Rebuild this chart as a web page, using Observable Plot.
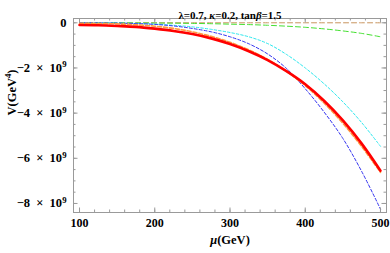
<!DOCTYPE html>
<html>
<head>
<meta charset="utf-8">
<script src="https://cdn.jsdelivr.net/npm/d3@7"></script>
<script src="https://cdn.jsdelivr.net/npm/@observablehq/plot@0.6"></script>
<style>
  html, body { margin: 0; padding: 0; background: #fff; }
</style>
</head>
<body>
<div id="chart"></div>
<script>
// ---- data (V in units of 10^9 GeV^4) ----
const mu = [100,125,150,175,200,225,250,275,300,325,350,375,400,425,450,475,500];
const vRed    = [-0.10,-0.11,-0.14,-0.18,-0.26,-0.36,-0.50,-0.69,-0.94,-1.26,-1.65,-2.14,-2.72,-3.45,-4.32,-5.35,-6.55];
const vOrange = [-0.02,-0.03,-0.05,-0.09,-0.15,-0.25,-0.40,-0.60,-0.86,-1.20,-1.62,-2.15,-2.78,-3.55,-4.45,-5.48,-6.62];
const vBlue   = [0,-0.005,-0.015,-0.035,-0.07,-0.14,-0.25,-0.40,-0.62,-0.93,-1.38,-2.02,-2.92,-3.95,-5.12,-6.58,-8.25];
const vCyan   = [0,-0.003,-0.01,-0.03,-0.06,-0.11,-0.18,-0.29,-0.43,-0.62,-0.92,-1.40,-2.00,-2.70,-3.50,-4.42,-5.47];
const vGreen  = [0,0,-0.003,-0.006,-0.01,-0.017,-0.027,-0.04,-0.06,-0.08,-0.11,-0.15,-0.20,-0.27,-0.36,-0.47,-0.62];
const vBrown  = [0,0,0,0,0,0,0,0,0,0,0,0,0,0,0,0,0];

const xMajor = [100,200,300,400,500];
const xMinor = d3.range(100, 501, 20);
const yMajor = [0,-2,-4,-6,-8];
const yMinor = d3.range(-8, 0.01, 0.5);
const yTickLabels = ["0","−2\u2002×\u200210^9","−4\u2002×\u200210^9","−6\u2002×\u200210^9","−8\u2002×\u200210^9"];

const titleText = "λ=0.7, κ=0.2, tanβ=1.5";
const xLabel = "μ(GeV)";
const yLabel = "V(GeV^4)";

// ---- layout ----
const W = 390, H = 253, mT = 18, mB = 41, mL = 73, mR = 4;
const frameH = H - mT - mB, frameW = W - mL - mR;
const grey = "#9a9a9a";

const series = [
  {v: vBrown,  stroke: "#c8945e", w: 1,   dash: "5,3"},
  {v: vGreen,  stroke: "#44e030", w: 1,   dash: "5,3"},
  {v: vCyan,   stroke: "#2ee8ee", w: 1,   dash: "2.5,2"},
  {v: vBlue,   stroke: "#3535f0", w: 1,   dash: "3,2"},
  {v: vOrange, stroke: "#ff9a40", w: 1.6, dash: "4,2"},
  {v: vRed,    stroke: "#ff0000", w: 2.6, dash: null}
];

const lineMarks = series.map(s => Plot.line(mu.map((m, i) => ({mu: m, V: s.v[i]})), {
  x: "mu", y: "V", stroke: s.stroke, strokeWidth: s.w,
  strokeDasharray: s.dash, curve: "catmull-rom"
}));

const plot = Plot.plot({
  width: W, height: H,
  marginTop: mT, marginBottom: mB, marginLeft: mL, marginRight: mR,
  style: {fontFamily: "'Liberation Serif', 'Times New Roman', serif", fontSize: "12px", fontWeight: "bold", background: "#fff", color: "#000"},
  x: {domain: [92, 508]},
  y: {domain: [-8.4, 0.19]},
  marks: [
    ...lineMarks,
    Plot.frame({stroke: grey, strokeWidth: 1}),
    // inward ticks, bottom / top
    Plot.tickX(xMinor, {x: d => d, stroke: grey, insetTop: frameH - 2.5}),
    Plot.tickX(xMajor, {x: d => d, stroke: grey, insetTop: frameH - 4.5}),
    Plot.tickX(xMinor, {x: d => d, stroke: grey, insetBottom: frameH - 2.5}),
    Plot.tickX(xMajor, {x: d => d, stroke: grey, insetBottom: frameH - 4.5}),
    // inward ticks, left / right
    Plot.tickY(yMinor, {y: d => d, stroke: grey, insetRight: frameW - 2.5}),
    Plot.tickY(yMajor, {y: d => d, stroke: grey, insetRight: frameW - 4.5}),
    Plot.tickY(yMinor, {y: d => d, stroke: grey, insetLeft: frameW - 2.5}),
    Plot.tickY(yMajor, {y: d => d, stroke: grey, insetLeft: frameW - 4.5}),
    Plot.axisX({ticks: xMajor, tickSize: 0, tickPadding: 6, label: null, tickFormat: d => String(d)}),
    Plot.axisY({ticks: yMajor, tickSize: 0, tickPadding: 7, label: null, fontSize: 12.5,
      tickFormat: d => yTickLabels[yMajor.indexOf(d)]}),
    Plot.text([titleText], {frameAnchor: "top", dy: -7, text: d => d, fontSize: 11}),
    Plot.text([xLabel], {frameAnchor: "bottom", dy: 31, text: d => d, fontSize: 12.5}),
    Plot.text([yLabel], {frameAnchor: "left", dx: -62, rotate: -90, text: d => d, fontSize: 12.5})
  ]
});

// ---- rich text (italics / superscripts) ----
function rich(node, parts) {
  const sel = d3.select(node);
  sel.text(null);
  for (const p of parts) {
    const t = sel.append("tspan").text(p.t);
    if (p.it) t.attr("font-style", "italic");
    if (p.sup) t.attr("font-size", "0.7em").attr("dy", "-4.5");
    if (p.down) t.attr("dy", "4.5");
  }
}
d3.select(plot).selectAll("text").each(function() {
  const s = this.textContent;
  if (s === titleText) {
    rich(this, [{t: "λ=0.7, "}, {t: "κ", it: true}, {t: "=0.2, tan"}, {t: "β", it: true}, {t: "=1.5"}]);
  } else if (s === xLabel) {
    rich(this, [{t: "μ", it: true}, {t: "(GeV)"}]);
  } else if (s === yLabel) {
    rich(this, [{t: "V(GeV"}, {t: "4", sup: true}, {t: ")", down: true}]);
  } else if (s.includes("^")) {
    const [a, b] = s.split("^");
    rich(this, [{t: a}, {t: b, sup: true}]);
  }
});

document.getElementById("chart").appendChild(plot);
</script>
</body>
</html>
